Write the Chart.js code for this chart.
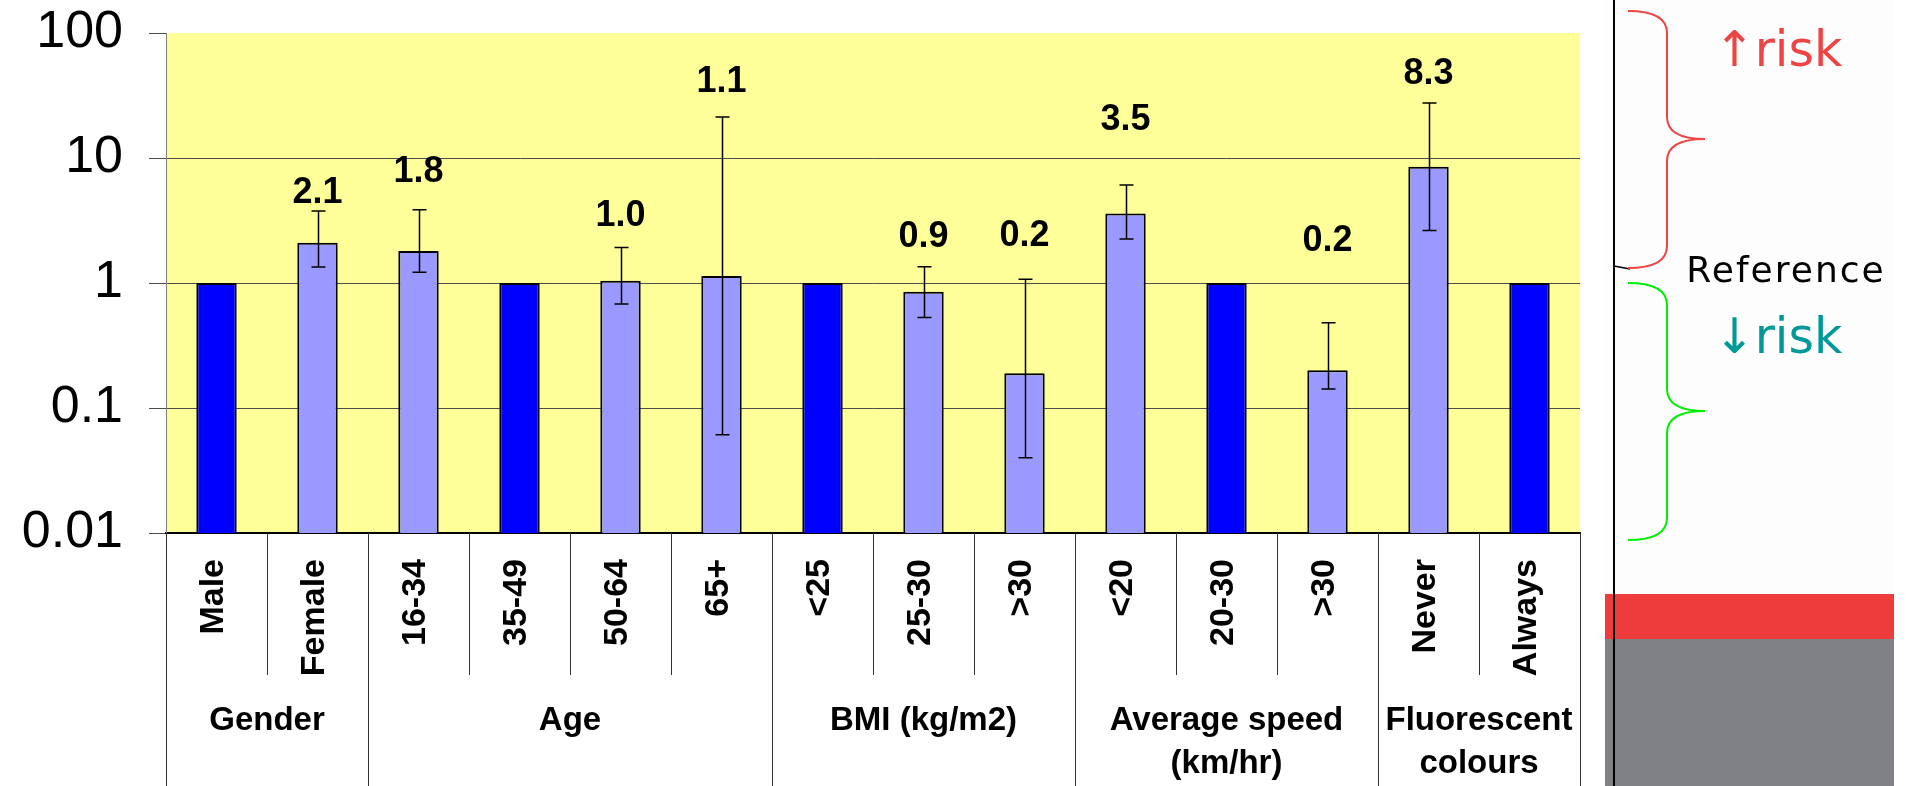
<!DOCTYPE html>
<html>
<head>
<meta charset="utf-8">
<title>Odds ratios by rider characteristics</title>
<script src="https://cdn.jsdelivr.net/npm/chart.js@4.4.0/dist/chart.umd.min.js"></script>
<style>
  html, body { margin: 0; padding: 0; background: #fff; }
  #wrap { width: 1912px; height: 786px; }
</style>
</head>
<body>
<div id="wrap"><canvas id="orChart" width="1912" height="786"></canvas></div>
<script>
// ---------- data ----------
const categories = ['Male', 'Female', '16-34', '35-49', '50-64', '65+', '<25', '25-30', '>30', '<20', '20-30', '>30', 'Never', 'Always'];
const isReference = [true, false, false, true, false, false, true, false, false, false, true, false, false, true];
const oddsRatio = [1, 2.1, 1.8, 1, 1.04, 1.14, 1, 0.85, 0.19, 3.6, 1, 0.2, 8.5, 1];
const ciLow  = [null, 1.34, 1.22, null, 0.68, 0.061, null, 0.53, 0.040, 2.25, null, 0.142, 2.63, null];
const ciHigh = [null, 3.77, 3.86, null, 1.92, 21.3, null, 1.35, 1.07, 6.08, null, 0.48, 27.5, null];
const valueLabels = ['', '2.1', '1.8', '', '1.0', '1.1', '', '0.9', '0.2', '3.5', '', '0.2', '8.3', ''];
const groupNames = [['Gender'], ['Age'], ['BMI (kg/m2)'], ['Average speed', '(km/hr)'], ['Fluorescent', 'colours']];
const groupSizes = [2, 4, 3, 3, 2];
const yTicks = [0.01, 0.1, 1, 10, 100];

// ---------- layout / style ----------
const FONT = '"Liberation Sans", Arial, sans-serif';
const labelGap = [0, 8, 28, 0, 22, 25, 0, 20, 33, 55, 0, 72, 19, 0]; // px above upper whisker
const REF_BLUE = '#0000ff';
const BAR_BLUE = '#9999ff';

// yellow plot area
const plotBackground = {
  id: 'plotBackground',
  beforeDraw(chart) {
    const { ctx, chartArea: a } = chart;
    ctx.save();
    ctx.fillStyle = '#ffff99';
    ctx.fillRect(a.left, a.top, a.right - a.left, a.bottom - a.top);
    ctx.restore();
  }
};

// confidence interval whiskers + value labels
const errorBars = {
  id: 'errorBars',
  afterDatasetsDraw(chart) {
    const { ctx, scales: { x, y } } = chart;
    ctx.save();
    ctx.strokeStyle = '#000';
    ctx.lineWidth = 1.5;
    for (let i = 0; i < categories.length; i++) {
      if (ciLow[i] == null) continue;
      const px = Math.round(x.getPixelForValue(i)) + 0.5;
      const top = y.getPixelForValue(ciHigh[i]);
      const bot = y.getPixelForValue(ciLow[i]);
      ctx.beginPath();
      ctx.moveTo(px, top); ctx.lineTo(px, bot);
      ctx.moveTo(px - 7, top); ctx.lineTo(px + 7, top);
      ctx.moveTo(px - 7, bot); ctx.lineTo(px + 7, bot);
      ctx.stroke();
    }
    ctx.fillStyle = '#000';
    ctx.font = 'bold 36px ' + FONT;
    ctx.textAlign = 'center';
    ctx.textBaseline = 'alphabetic';
    valueLabels.forEach((t, i) => {
      if (!t) return;
      const top = y.getPixelForValue(ciHigh[i]);
      ctx.fillText(t, x.getPixelForValue(i), top - labelGap[i]);
    });
    ctx.restore();
  }
};

// category table under the axis: rotated labels, dividers, group names
const categoryTable = {
  id: 'categoryTable',
  afterDraw(chart) {
    const { ctx, chartArea: a, scales: { x } } = chart;
    const n = categories.length;
    const w = (a.right - a.left) / n;
    const H = chart.height;
    const groupEdges = new Set([0]);
    let k = 0;
    groupSizes.forEach(s => { k += s; groupEdges.add(k); });

    ctx.save();
    ctx.strokeStyle = '#333';
    ctx.lineWidth = 1;
    for (let i = 0; i <= n; i++) {
      const px = Math.round(x.getPixelForValue(i) - w / 2) + 0.5;
      ctx.beginPath();
      ctx.moveTo(px, a.bottom);
      ctx.lineTo(px, groupEdges.has(i) ? H : a.bottom + 142);
      ctx.stroke();
    }

    ctx.fillStyle = '#000';
    ctx.font = 'bold 34px ' + FONT;
    categories.forEach((c, i) => {
      ctx.save();
      ctx.translate(x.getPixelForValue(i) - 3, a.bottom + 26);
      ctx.rotate(-Math.PI / 2);
      ctx.textAlign = 'right';
      ctx.textBaseline = 'middle';
      ctx.fillText(c, 0, 0);
      ctx.restore();
    });

    ctx.font = 'bold 33px ' + FONT;
    ctx.textAlign = 'center';
    ctx.textBaseline = 'middle';
    let start = 0;
    groupNames.forEach((lines, g) => {
      const end = start + groupSizes[g] - 1;
      const cx = (x.getPixelForValue(start) + x.getPixelForValue(end)) / 2;
      lines.forEach((ln, j) => ctx.fillText(ln, cx, a.bottom + 188 + j * 43));
      start = end + 1;
    });
    ctx.restore();
  }
};

// side key: braces with risk text, colour bands
function drawBrace(ctx, top, mid, bot, color) {
  const xe = 1628, xv = 1667, xt = 1705, r = 22;
  ctx.strokeStyle = color;
  ctx.lineWidth = 2;
  ctx.beginPath();
  ctx.moveTo(xe, top);
  ctx.quadraticCurveTo(xv, top, xv, top + r);
  ctx.lineTo(xv, mid - r);
  ctx.quadraticCurveTo(xv, mid, xt, mid);
  ctx.moveTo(xt, mid);
  ctx.quadraticCurveTo(xv, mid, xv, mid + r);
  ctx.lineTo(xv, bot - r);
  ctx.quadraticCurveTo(xv, bot, xe, bot);
  ctx.stroke();
}

const riskKey = {
  id: 'riskKey',
  afterDraw(chart) {
    const { ctx } = chart;
    const H = chart.height;
    ctx.save();
    ctx.fillStyle = '#fdfdfd';
    ctx.fillRect(1605, 0, 289, 594);
    ctx.fillStyle = '#ee3c3c';
    ctx.fillRect(1605, 594, 289, 45);
    ctx.fillStyle = '#7f8185';
    ctx.fillRect(1605, 639, 289, H - 639);

    ctx.strokeStyle = '#000';
    ctx.lineWidth = 2;
    ctx.beginPath(); ctx.moveTo(1614, 0); ctx.lineTo(1614, H); ctx.stroke();
    ctx.lineWidth = 1.5;
    ctx.beginPath(); ctx.moveTo(1614, 266); ctx.lineTo(1630, 269); ctx.stroke();

    drawBrace(ctx, 11, 139, 268, '#ee4444');
    drawBrace(ctx, 283, 411, 540, '#00ee00');

    ctx.textAlign = 'center';
    ctx.textBaseline = 'alphabetic';
    ctx.font = '49px "DejaVu Sans", sans-serif';
    ctx.fillStyle = '#ee4444';
    ctx.fillText('\u2191risk', 1778, 66);
    ctx.fillStyle = '#009999';
    ctx.fillText('\u2193risk', 1778, 353);
    ctx.fillStyle = '#000';
    ctx.font = '36px "DejaVu Sans", sans-serif';
    ctx.letterSpacing = '2px';
    ctx.fillText('Reference', 1786, 282);
    ctx.restore();
  }
};

new Chart(document.getElementById('orChart').getContext('2d'), {
  type: 'bar',
  data: {
    labels: categories,
    datasets: [{
      data: oddsRatio,
      backgroundColor: isReference.map(r => r ? REF_BLUE : BAR_BLUE),
      borderColor: '#000',
      borderWidth: 2,
      barPercentage: 0.4,
      categoryPercentage: 1.0
    }]
  },
  options: {
    responsive: false,
    animation: false,
    devicePixelRatio: 1,
    layout: { padding: { top: 33, right: 332, left: 0, bottom: 0 } },
    scales: {
      x: {
        ticks: { display: false },
        grid: { display: false },
        border: { display: true, color: '#000', width: 2 },
        afterFit: s => { s.height = 253; s.paddingLeft = 0; s.paddingRight = 0; }
      },
      y: {
        type: 'logarithmic',
        min: 0.01,
        max: 100,
        afterBuildTicks: s => { s.ticks = yTicks.map(v => ({ value: v })); },
        afterFit: s => { s.width = 166; s.paddingTop = 0; s.paddingBottom = 0; },
        ticks: {
          color: '#000',
          autoSkip: false,
          padding: 26,
          font: { family: FONT, size: 52 },
          callback: v => String(v)
        },
        grid: {
          color: c => (c.tick && c.tick.value === 100) ? 'rgba(0,0,0,0)' : '#4d4d4d',
          tickColor: '#4d4d4d',
          tickLength: 17,
          lineWidth: 1
        },
        border: { color: '#808080', width: 1 }
      }
    },
    plugins: { legend: { display: false }, tooltip: { enabled: false } }
  },
  plugins: [plotBackground, errorBars, categoryTable, riskKey]
});
</script>
</body>
</html>
